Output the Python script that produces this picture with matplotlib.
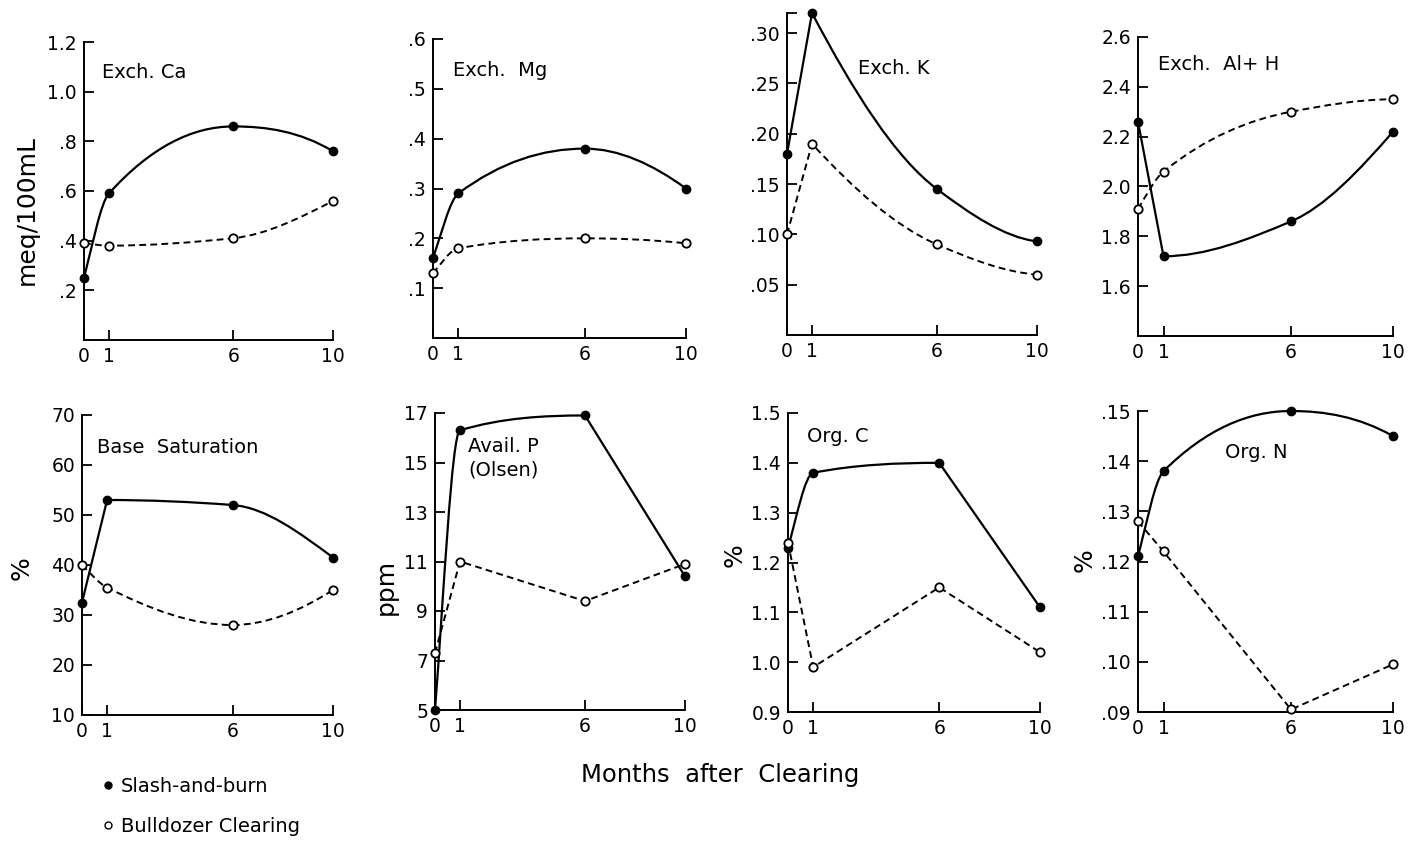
import numpy as np
import matplotlib.pyplot as plt
from matplotlib.path import Path
from matplotlib.patches import PathPatch
from matplotlib.lines import Line2D

W, H = 1410, 848

months = [0, 1, 6, 10]

ca_slash = [0.25, 0.59, 0.86, 0.76]
ca_bull = [0.39, 0.38, 0.41, 0.56]
mg_slash = [0.16, 0.29, 0.38, 0.30]
mg_bull = [0.13, 0.18, 0.20, 0.19]
k_slash = [0.18, 0.32, 0.145, 0.093]
k_bull = [0.10, 0.19, 0.09, 0.06]
al_slash = [2.26, 1.72, 1.86, 2.22]
al_bull = [1.91, 2.06, 2.30, 2.35]
bs_slash = [32.5, 53, 52, 41.5]
bs_bull = [40, 35.5, 28, 35]
p_slash = [5.0, 16.3, 16.9, 10.4]
p_bull = [7.3, 11.0, 9.4, 10.9]
c_slash = [1.23, 1.38, 1.40, 1.11]
c_bull = [1.24, 0.99, 1.15, 1.02]
n_slash = [0.121, 0.138, 0.150, 0.145]
n_bull = [0.128, 0.122, 0.0905, 0.0995]

panels = [
    dict(title="Exch. Ca", slash=ca_slash, bull=ca_bull, ylim=(0, 1.2),
         ticks=[0.2, 0.4, 0.6, 0.8, 1.0, 1.2], labels=[".2", ".4", ".6", ".8", "1.0", "1.2"],
         box=(84, 42, 333, 340), tpos=(102, 72), ylabel="meq/100mL", ypos=(27, 210),
         cs=[], cb=[]),
    dict(title="Exch.  Mg", slash=mg_slash, bull=mg_bull, ylim=(0, 0.6),
         ticks=[0.1, 0.2, 0.3, 0.4, 0.5, 0.6], labels=[".1", ".2", ".3", ".4", ".5", ".6"],
         box=(433, 39, 686, 338), tpos=(453, 70), ylabel=None, ypos=None,
         cs=[], cb=[]),
    dict(title="Exch. K", slash=k_slash, bull=k_bull, ylim=(0, 0.32),
         ticks=[0.05, 0.10, 0.15, 0.20, 0.25, 0.30], labels=[".05", ".10", ".15", ".20", ".25", ".30"],
         box=(787, 13, 1037, 335), tpos=(858, 68), ylabel=None, ypos=None,
         cs=[1], cb=[1]),
    dict(title="Exch.  Al+ H", slash=al_slash, bull=al_bull, ylim=(1.4, 2.6),
         ticks=[1.6, 1.8, 2.0, 2.2, 2.4, 2.6], labels=["1.6", "1.8", "2.0", "2.2", "2.4", "2.6"],
         box=(1138, 37, 1393, 336), tpos=(1158, 65), ylabel=None, ypos=None,
         cs=[1], cb=[]),
    dict(title="Base  Saturation", slash=bs_slash, bull=bs_bull, ylim=(10, 70),
         ticks=[10, 20, 30, 40, 50, 60, 70], labels=["10", "20", "30", "40", "50", "60", "70"],
         box=(82, 415, 333, 715), tpos=(97, 447), ylabel="%", ypos=(22, 568),
         cs=[1], cb=[]),
    dict(title="Avail. P\n(Olsen)", slash=p_slash, bull=p_bull, ylim=(5, 17),
         ticks=[5, 7, 9, 11, 13, 15, 17], labels=["5", "7", "9", "11", "13", "15", "17"],
         box=(435, 413, 685, 710), tpos=(468, 458), ylabel="ppm", ypos=(386, 587),
         cs=[2], cb=[1, 2]),
    dict(title="Org. C", slash=c_slash, bull=c_bull, ylim=(0.9, 1.5),
         ticks=[0.9, 1.0, 1.1, 1.2, 1.3, 1.4, 1.5], labels=["0.9", "1.0", "1.1", "1.2", "1.3", "1.4", "1.5"],
         box=(788, 413, 1040, 712), tpos=(807, 437), ylabel="%", ypos=(735, 555),
         cs=[2], cb=[1, 2]),
    dict(title="Org. N", slash=n_slash, bull=n_bull, ylim=(0.09, 0.15),
         ticks=[0.09, 0.10, 0.11, 0.12, 0.13, 0.14, 0.15], labels=[".09", ".10", ".11", ".12", ".13", ".14", ".15"],
         box=(1138, 411, 1393, 712), tpos=(1225, 453), ylabel="%", ypos=(1085, 560),
         cs=[], cb=[1, 2]),
]


def pchip_slopes(x, y):
    # Fritsch-Carlson slopes, so the drawn curve does not overshoot
    h = np.diff(x)
    dl = np.diff(y) / h
    n = len(x)
    if n == 2:
        return np.array([dl[0], dl[0]])
    d = np.zeros(n)
    for k in range(1, n - 1):
        if dl[k - 1] * dl[k] > 0:
            w1 = 2 * h[k] + h[k - 1]
            w2 = h[k] + 2 * h[k - 1]
            d[k] = (w1 + w2) / (w1 / dl[k - 1] + w2 / dl[k])

    def end(h0, h1, d0, d1):
        s = ((2 * h0 + h1) * d0 - h0 * d1) / (h0 + h1)
        if np.sign(s) != np.sign(d0):
            s = 0.0
        elif np.sign(d0) != np.sign(d1) and abs(s) > abs(3 * d0):
            s = 3 * d0
        return s

    d[0] = end(h[0], h[1], dl[0], dl[1])
    d[-1] = end(h[-1], h[-2], dl[-1], dl[-2])
    return d


def curve_path(xs, ys, corners):
    x = np.asarray(xs, float)
    y = np.asarray(ys, float)
    n = len(x)
    breaks = [0] + sorted(corners) + [n - 1]
    verts = [(x[0], y[0])]
    codes = [Path.MOVETO]
    for a, b in zip(breaks[:-1], breaks[1:]):
        px, py = x[a:b + 1], y[a:b + 1]
        if len(px) == 2:
            verts.append((px[1], py[1]))
            codes.append(Path.LINETO)
            continue
        d = pchip_slopes(px, py)
        for i in range(len(px) - 1):
            hh = px[i + 1] - px[i]
            verts += [(px[i] + hh / 3, py[i] + d[i] * hh / 3),
                      (px[i + 1] - hh / 3, py[i + 1] - d[i + 1] * hh / 3),
                      (px[i + 1], py[i + 1])]
            codes += [Path.CURVE4] * 3
    return Path(verts, codes)


plt.rcParams['font.family'] = ['DejaVu Sans']
fig = plt.figure(figsize=(W / 100, H / 100), dpi=100)

for p in panels:
    l, t, r, b = p["box"]
    ax = fig.add_axes([l / W, 1 - b / H, (r - l) / W, (b - t) / H])
    ax.set_xlim(0, 10)
    ax.set_ylim(p["ylim"])
    for s in ["top", "right"]:
        ax.spines[s].set_visible(False)
    for s in ["left", "bottom"]:
        ax.spines[s].set_linewidth(1.4)
    ax.set_xticks(months)
    ax.set_xticklabels([str(m) for m in months])
    ax.set_yticks(p["ticks"])
    ax.set_yticklabels(p["labels"])
    ax.tick_params(direction="in", length=7, width=1.3, labelsize=13.5, pad=5)
    if p["title"] == "Exch. K":
        ax.set_yticks([0.32], minor=True)
        ax.tick_params(which="minor", direction="in", length=7, width=1.3)

    ax.add_patch(PathPatch(curve_path(months, p["slash"], p["cs"]),
                           fill=False, lw=1.6, color="black", clip_on=False))
    ax.add_patch(PathPatch(curve_path(months, p["bull"], p["cb"]),
                           fill=False, lw=1.4, color="black", linestyle=(0, (3.5, 2.2)), clip_on=False))
    ax.plot(months, p["slash"], "o", color="black", ms=6, clip_on=False, zorder=5)
    ax.plot(months, p["bull"], "o", mfc="white", mec="black", mew=1.3, ms=6, clip_on=False, zorder=5)

    tx, ty = p["tpos"]
    fig.text(tx / W, 1 - ty / H, p["title"], fontsize=14, ha="left", va="center", linespacing=1.3)
    if p["ylabel"]:
        yx, yy = p["ypos"]
        fig.text(yx / W, 1 - yy / H, p["ylabel"], fontsize=18, rotation=90, ha="center", va="center")

fig.text(720 / W, 1 - 775 / H, "Months  after  Clearing", fontsize=17.5, ha="center", va="center")

handles = [Line2D([], [], marker="o", ls="none", color="black", ms=5),
           Line2D([], [], marker="o", ls="none", mfc="white", mec="black", ms=5)]
fig.legend(handles, ["Slash-and-burn", "Bulldozer Clearing"], loc="upper left",
           bbox_to_anchor=(86 / W, 1 - 759 / H), frameon=False, fontsize=14,
           handlelength=0.5, handletextpad=0.4, labelspacing=1.1)

fig.savefig("out.png", dpi=100)
